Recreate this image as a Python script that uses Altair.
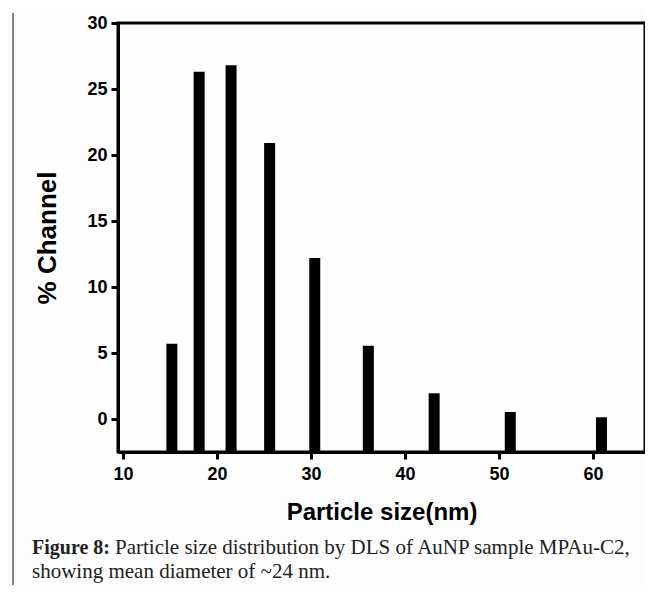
import altair as alt
import pandas as pd

# Data
sizes = [15.2, 18.1, 21.5, 25.6, 30.4, 36.1, 43.1, 51.2, 60.9]
channel = [5.7, 26.3, 26.8, 20.9, 12.2, 5.55, 1.95, 0.53, 0.13]
x_ticks = [10, 20, 30, 40, 50, 60]
y_ticks = [0, 5, 10, 15, 20, 25, 30]
caption_bold = ["Figure 8:"]
caption_line1 = ["Particle size distribution by DLS of AuNP sample MPAu-C2,"]
caption_line2 = ["showing mean diameter of ~24 nm."]

df = pd.DataFrame({"size": sizes, "channel": channel})

bars = alt.Chart(df).mark_bar(color="black", size=11).encode(
    x=alt.X("size:Q",
            scale=alt.Scale(domain=[10, 65], nice=False, zero=False),
            axis=alt.Axis(values=x_ticks, title="Particle size(nm)", format="d")),
    y=alt.Y("channel:Q",
            scale=alt.Scale(domain=[-2.5, 30], nice=False, zero=False),
            axis=alt.Axis(values=y_ticks, title="% Channel", format="d")),
    y2=alt.datum(-2.5),
)

cap_df = pd.DataFrame({"b": caption_bold, "l1": caption_line1, "l2": caption_line2})
font_serif = "Liberation Serif"
cap_b = alt.Chart(cap_df).mark_text(
    align="left", baseline="alphabetic", font=font_serif, fontSize=20,
    fontWeight="bold", color="#222"
).encode(text="b:N", x=alt.value(-86), y=alt.value(531))
cap_1 = alt.Chart(cap_df).mark_text(
    align="left", baseline="alphabetic", font=font_serif, fontSize=21, color="#222"
).encode(text="l1:N", x=alt.value(-3), y=alt.value(531))
cap_2 = alt.Chart(cap_df).mark_text(
    align="left", baseline="alphabetic", font=font_serif, fontSize=21, color="#222"
).encode(text="l2:N", x=alt.value(-86), y=alt.value(555))

frame = alt.Chart(cap_df).mark_rule(color="#333", strokeWidth=1.2).encode(
    x=alt.value(-105), y=alt.value(-10), y2=alt.value(570)
)

chart = alt.layer(bars, cap_b, cap_1, cap_2, frame).properties(
    width=527, height=429,
    autosize=alt.AutoSizeParams(type="none"),
    padding={"left": 110, "top": 15, "right": 0, "bottom": 133},
    background="#fdfdfd",
).configure_view(
    stroke="black", strokeWidth=3
).configure_axis(
    domainColor="black", domainWidth=3, tickColor="black", tickWidth=3,
    tickSize=7, labelFont="Liberation Sans", labelFontWeight="bold",
    labelFontSize=18, labelColor="black", grid=False,
    titleFont="Liberation Sans", titleFontWeight="bold", titleFontSize=24,
    titleColor="black",
).configure_axisX(
    labelPadding=6, titlePadding=17
).configure_axisY(
    labelPadding=4, titlePadding=26, titleFontSize=26
)

chart.save("out.html", embed_options={"renderer": "svg", "actions": False})
